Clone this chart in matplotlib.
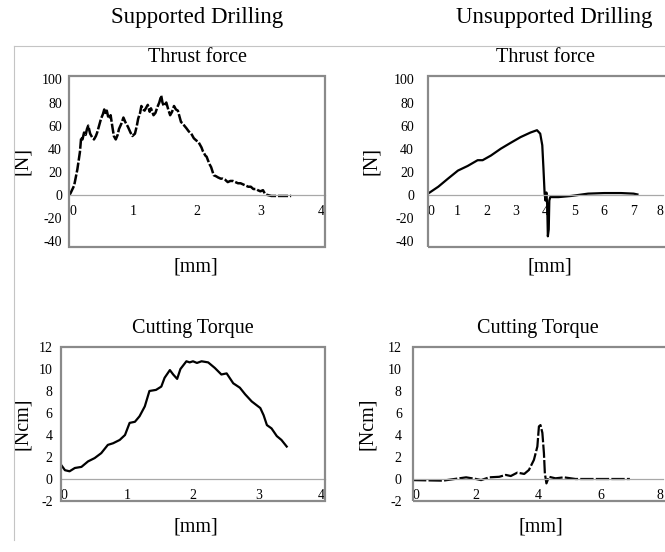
import matplotlib.pyplot as plt
from matplotlib.patches import Rectangle
from matplotlib.lines import Line2D

plt.rcParams['font.family'] = ['Liberation Serif', 'DejaVu Serif']
plt.rcParams['axes.unicode_minus'] = False

# supported drilling - thrust force [N] vs depth [mm]
sup_thrust_x = [0.0, 0.02, 0.08, 0.13, 0.17, 0.19, 0.21, 0.235, 0.26, 0.28, 0.30, 0.33, 0.36,
                0.39, 0.42, 0.44, 0.47, 0.50, 0.53, 0.55, 0.57, 0.59, 0.61, 0.63, 0.65, 0.68,
                0.70, 0.73, 0.76, 0.78, 0.82, 0.85, 0.88, 0.92, 0.96, 0.99, 1.03, 1.06, 1.08,
                1.11, 1.13, 1.16, 1.18, 1.21, 1.23, 1.26, 1.28, 1.32, 1.35, 1.38, 1.41, 1.44,
                1.46, 1.48, 1.52, 1.55, 1.58, 1.61, 1.64, 1.67, 1.70, 1.73, 1.75, 1.78, 1.80,
                1.83, 1.87, 1.91, 1.95, 1.99, 2.02, 2.04, 2.07, 2.09, 2.13, 2.15, 2.17, 2.20,
                2.22, 2.26, 2.30, 2.33, 2.37, 2.40, 2.44, 2.48, 2.52, 2.56, 2.60, 2.64, 2.68,
                2.72, 2.76, 2.80, 2.84, 2.88, 2.92, 2.95, 2.99, 3.03, 3.06, 3.09, 3.16, 3.22,
                3.27, 3.32, 3.37, 3.42, 3.47]
sup_thrust_y = [0, 1, 8, 22, 37, 50, 48, 54, 52, 57, 60, 53, 50,
                48, 51, 54, 60, 66, 70, 74, 71, 73, 68, 66, 69, 58,
                51, 48, 52, 57, 62, 67, 63, 59, 54, 51, 53, 60, 66,
                71, 77, 74, 73, 76, 78, 72, 75, 69, 71, 76, 80, 86,
                80, 77, 80, 74, 69, 72, 77, 74, 73, 67, 63, 62, 60,
                58, 55, 53, 49, 47, 46, 44, 41, 38, 34, 33, 30, 26,
                24, 17, 16, 15, 14, 14, 13, 11, 12, 12, 11, 10, 10,
                9, 8, 7, 7, 5, 5, 4, 3, 4, 1, 0, -1, -1,
                -1, -1, -1, -1, -1]

# unsupported drilling - thrust force
uns_thrust_x = [0.0, 0.35, 0.68, 1.02, 1.35, 1.69, 1.86, 2.14, 2.48, 2.81, 3.15, 3.49, 3.71,
                3.82, 3.89, 3.93, 3.97, 4.00, 4.03, 4.06, 4.08, 4.11, 4.13, 4.16, 4.44, 4.88,
                5.45, 6.00, 6.57, 7.00, 7.13]
uns_thrust_y = [1, 7, 14, 21, 25, 30, 30, 34, 40, 45, 50, 54, 56,
                53, 43, 23, 1, -5, 2, -10, -36, -30, -5, -2, -2, -1,
                1, 1.5, 1.5, 1, 0.3]

# supported drilling - cutting torque [Ncm]
sup_torque_x = [0.0, 0.06, 0.13, 0.21, 0.31, 0.41, 0.51, 0.61, 0.71, 0.79, 0.89, 0.97, 1.04,
                1.12, 1.19, 1.27, 1.34, 1.44, 1.52, 1.57, 1.65, 1.70, 1.76, 1.81, 1.90, 1.95,
                2.00, 2.06, 2.13, 2.23, 2.33, 2.43, 2.51, 2.61, 2.71, 2.79, 2.89, 3.02, 3.07,
                3.12, 3.19, 3.27, 3.34, 3.42]
sup_torque_y = [1.3, 0.8, 0.7, 1.0, 1.1, 1.6, 1.9, 2.35, 3.1, 3.25, 3.55, 4.0, 5.1,
                5.2, 5.7, 6.6, 8.0, 8.1, 8.4, 9.2, 9.9, 9.5, 9.1, 10.0, 10.7, 10.6,
                10.7, 10.55, 10.7, 10.6, 10.1, 9.5, 9.6, 8.7, 8.3, 7.7, 7.05, 6.45, 5.8,
                4.9, 4.6, 3.9, 3.55, 2.95]

# unsupported drilling - cutting torque
uns_torque_x = [0.0, 0.96, 1.70, 2.02, 2.18, 2.44, 2.76, 2.97, 3.13, 3.34, 3.56, 3.71, 3.87,
                3.98, 4.03, 4.08, 4.14, 4.19, 4.22, 4.27, 4.35, 4.56, 4.83, 5.20, 6.00, 6.94]
uns_torque_y = [-0.1, -0.15, 0.15, 0.0, -0.1, 0.15, 0.2, 0.37, 0.27, 0.58, 0.46, 0.82, 1.74,
                2.95, 4.78, 4.9, 4.2, 2.35, 0.5, -0.4, 0.2, 0.06, 0.15, 0.0, 0.0, 0.0]

force_ticks = [-40, -20, 0, 20, 40, 60, 80, 100]
torque_ticks = [-2, 0, 2, 4, 6, 8, 10, 12]


def setup_panel(ax, title, ylabel, xticks, yticks, ylim, xlim, ypad, label_x, label_y, ylab_x,
                frame_w=1.0):
    ax.set_xlim(xlim)
    ax.set_ylim(ylim)
    for s in ['top', 'left', 'right']:
        ax.spines[s].set_visible(False)
    # axis line crosses at y = 0 like in excel
    ax.spines['bottom'].set_position(('data', 0))
    ax.spines['bottom'].set_color('#a8a8a8')
    ax.spines['bottom'].set_linewidth(0.9)
    ax.add_patch(Rectangle((0, 0), frame_w, 1, transform=ax.transAxes, fill=False,
                           edgecolor='#8a8a8a', linewidth=1.6, clip_on=False, zorder=4))
    ax.set_xticks(xticks)
    ax.set_xticklabels([str(t) for t in xticks])
    labels = ax.get_xticklabels()
    labels[0].set_ha('left')
    labels[-1].set_ha('right')
    ax.set_yticks(yticks)
    ax.tick_params(axis='x', length=0, pad=7, labelsize=10)
    ax.tick_params(axis='y', length=0, pad=ypad, labelsize=10)
    ax.set_title(title, fontsize=14.5, pad=10)
    ax.set_xlabel('[mm]', fontsize=14.5)
    ax.xaxis.set_label_coords(label_x, label_y)
    ax.set_ylabel(ylabel, fontsize=14.5)
    ax.yaxis.set_label_coords(ylab_x, 0.5)


fig = plt.figure(figsize=(6.65, 5.52), dpi=100)

ax1 = fig.add_axes([0.1038, 0.5531, 0.385, 0.3092])
ax2 = fig.add_axes([0.6436, 0.5531, 0.3534, 0.3092])
ax3 = fig.add_axes([0.0917, 0.0924, 0.397, 0.279])
ax4 = fig.add_axes([0.621, 0.0924, 0.376, 0.279])

ax1.plot(sup_thrust_x, sup_thrust_y, color='black', lw=1.8, dashes=(4, 0.8))
ax2.plot(uns_thrust_x, uns_thrust_y, color='black', lw=1.6)
ax3.plot(sup_torque_x, sup_torque_y, color='black', lw=1.6)
ax4.plot(uns_torque_x, uns_torque_y, color='black', lw=1.6, dashes=(6, 1))

setup_panel(ax1, 'Thrust force', '[N]', [0, 1, 2, 3, 4], force_ticks, (-45, 103), (0, 4),
            5, 0.497, -0.066, -0.145)
setup_panel(ax2, 'Thrust force', '[N]', [0, 1, 2, 3, 4, 5, 6, 7, 8], force_ticks, (-45, 103), (0, 8),
            10, 0.517, -0.066, -0.20, frame_w=1.05)
setup_panel(ax3, 'Cutting Torque', '[Ncm]', [0, 1, 2, 3, 4], torque_ticks, (-2, 12), (0, 4),
            6, 0.511, -0.104, -0.11)
setup_panel(ax4, 'Cutting Torque', '[Ncm]', [0, 2, 4, 6, 8], torque_ticks, (-2, 12), (0, 8),
            8, 0.51, -0.104, -0.142, frame_w=1.05)

fig.text(196.7 / 665, 1 - 17 / 552, 'Supported Drilling', ha='center', va='center', fontsize=16.5)
fig.text(554 / 665, 1 - 17 / 552, 'Unsupported Drilling', ha='center', va='center', fontsize=16.5)

# chart area border lines
fig.add_artist(Line2D([14 / 665, 1.0], [1 - 46 / 552, 1 - 46 / 552], color='#c4c4c4', lw=0.8))
fig.add_artist(Line2D([14 / 665, 14 / 665], [1 - 46 / 552, 1 - 540 / 552], color='#c4c4c4', lw=0.8))

fig.savefig('out.png', dpi=100)
